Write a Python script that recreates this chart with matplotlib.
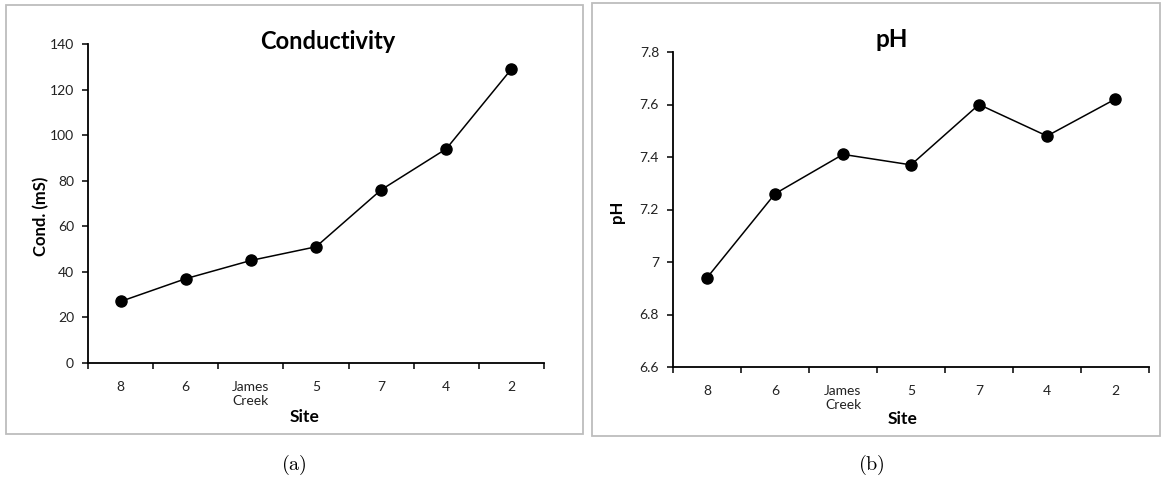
import matplotlib
matplotlib.use("Agg")
import matplotlib.pyplot as plt
from matplotlib.patches import Rectangle

plt.rcParams['font.family'] = ['Lato', 'DejaVu Sans']
plt.rcParams['mathtext.fontset'] = 'cm'

# data
sites = ["8", "6", "James\nCreek", "5", "7", "4", "2"]
conductivity = [27, 37, 45, 51, 76, 94, 129]
ph = [6.94, 7.26, 7.41, 7.37, 7.60, 7.48, 7.62]
cond_ticks = [0, 20, 40, 60, 80, 100, 120, 140]
cond_tick_labels = ["0", "20", "40", "60", "80", "100", "120", "140"]
ph_ticks = [6.6, 6.8, 7.0, 7.2, 7.4, 7.6, 7.8]
ph_tick_labels = ["6.6", "6.8", "7", "7.2", "7.4", "7.6", "7.8"]

W, H = 1162, 484
fig = plt.figure(figsize=(W / 100, H / 100), dpi=100)


def box(x0, x1, y0, y1):
    # pixel box (y from top) -> figure fraction rect
    return [x0 / W, 1 - y1 / H, (x1 - x0) / W, (y1 - y0) / H]


def frame(x0, x1, y0, y1):
    r = Rectangle((x0 / W, 1 - y1 / H), (x1 - x0) / W, (y1 - y0) / H,
                  transform=fig.transFigure, fill=False,
                  edgecolor="#bdbdbd", linewidth=1.3)
    fig.add_artist(r)


def ptext(x, y, s, **kw):
    # text at pixel position (y from top)
    return fig.text(x / W, 1 - y / H, s, **kw)


def panel(rect, values, yticks, ylabels, ylim):
    ax = fig.add_axes(rect)
    xs = list(range(len(sites)))
    ax.plot(xs, values, color="black", linewidth=1.1, marker="o",
            markersize=8, markerfacecolor="black", clip_on=False)
    ax.set_xlim(-0.5, len(sites) - 0.5)
    ax.set_ylim(*ylim)
    ax.set_xticks(xs)
    ax.set_xticklabels(sites, fontsize=10, color="#222222", linespacing=1.2)
    ax.set_xticks([i - 0.5 for i in range(len(sites) + 1)], minor=True)
    ax.tick_params(axis="x", which="major", length=0, pad=13)
    ax.tick_params(axis="x", which="minor", length=4, width=1.1, direction="out")
    ax.set_yticks(yticks)
    ax.set_yticklabels(ylabels, fontsize=10, color="#222222")
    ax.tick_params(axis="y", length=4, width=1.1, direction="out", pad=6)
    for s in ["top", "right"]:
        ax.spines[s].set_visible(False)
    for s in ["left", "bottom"]:
        ax.spines[s].set_linewidth(1.3)
    return ax


frame(6, 583, 5, 434)
frame(592, 1160, 3, 436)

panel(box(88, 544, 44, 363), conductivity, cond_ticks, cond_tick_labels, (0, 140))
panel(box(673, 1149, 52, 367), ph, ph_ticks, ph_tick_labels, (6.6, 7.8))

# titles and axis labels
ptext(328, 49, "Conductivity", ha="center", va="baseline", fontsize=17, fontweight="bold")
ptext(892, 47, "pH", ha="center", va="baseline", fontsize=17.5, fontweight="bold")
ptext(41, 216, "Cond. (mS)", ha="center", va="center", rotation=90,
      fontsize=12, fontweight="bold")
ptext(617, 212, "pH", ha="center", va="center", rotation=90,
      fontsize=12, fontweight="bold")
ptext(305, 417, "Site", ha="center", va="center", fontsize=12.5, fontweight="bold")
ptext(903, 419, "Site", ha="center", va="center", fontsize=12.5, fontweight="bold")

ptext(294, 465, r"$\mathrm{(a)}$", ha="center", va="center", fontsize=14.5)
ptext(871, 465, r"$\mathrm{(b)}$", ha="center", va="center", fontsize=14.5)

fig.savefig("out.png", dpi=100)
